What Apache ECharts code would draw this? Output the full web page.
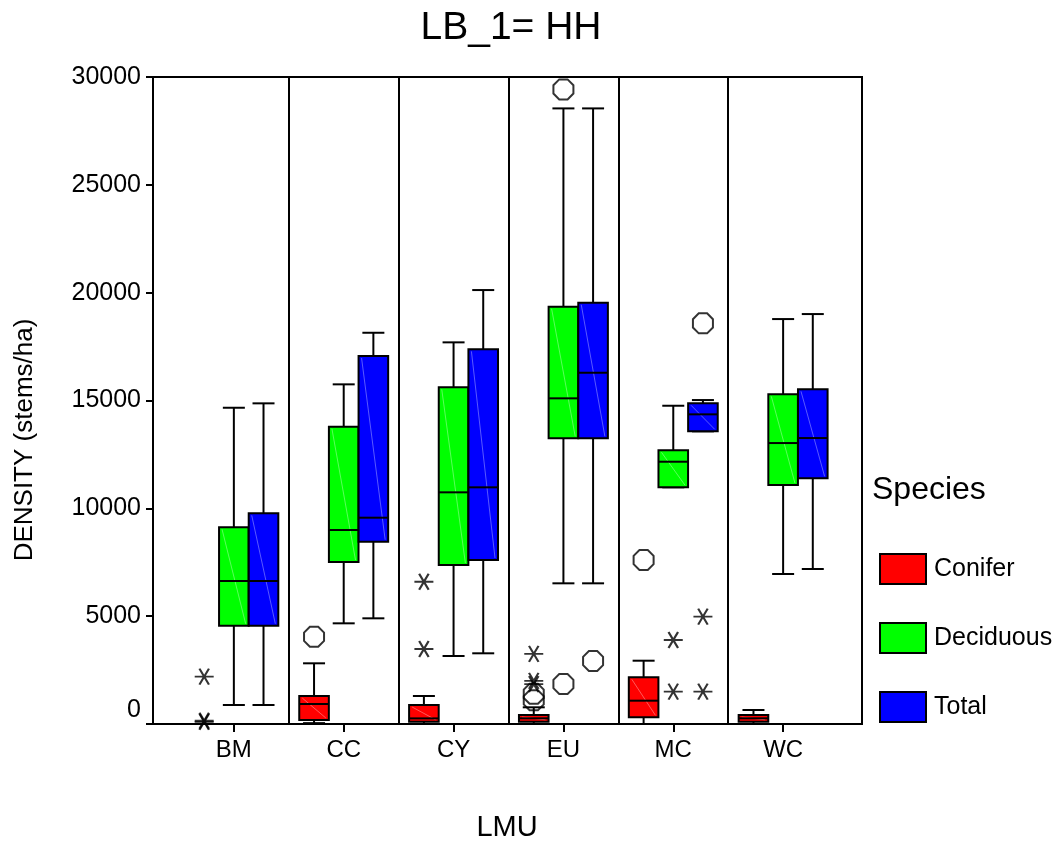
<!DOCTYPE html>
<html>
<head>
<meta charset="utf-8">
<title>LB_1= HH</title>
<script src="https://cdn.jsdelivr.net/npm/echarts@6/dist/echarts.min.js"></script>
<style>
  html, body { margin: 0; padding: 0; background: #fff; }
  #main { width: 1058px; height: 846px; }
</style>
</head>
<body>
<div id="main"></div>
<script>
// categories (LMU)
var lmu = ['BM', 'CC', 'CY', 'EU', 'MC', 'WC'];
var yTicks = [0, 5000, 10000, 15000, 20000, 25000, 30000];

// box values per LMU: [low, q1, median, q3, high]
var coniferBox = [
  [0, 0, 0, 0, 0],
  [40, 185, 927, 1298, 2814],
  [0, 100, 260, 881, 1298],
  [0, 100, 264, 417, 774],
  [0, 310, 1081, 2165, 2935],
  [0, 100, 264, 417, 649]
];
var deciduousBox = [
  [881, 4557, 6630, 9119, 14664],
  [4668, 7510, 8994, 13783, 15749],
  [3152, 7371, 10742, 15610, 17696],
  [6523, 13245, 15100, 19346, 28544],
  [10974, 10974, 12161, 12689, 14757],
  [6954, 11080, 13027, 15285, 18776]
];
var totalBox = [
  [881, 4557, 6630, 9768, 14868],
  [4900, 8452, 9566, 17061, 18141],
  [3278, 7603, 10974, 17371, 20121],
  [6523, 13245, 16287, 19532, 28544],
  [13570, 13570, 14358, 14868, 15021],
  [7186, 11391, 13259, 15517, 19008]
];

// outliers: [lmu index, value]
var coniferCircles = [[1, 4047], [3, 1100], [3, 1400], [4, 7603]];
var coniferStars = [[0, 2193], [0, 150], [0, 100], [2, 6597], [2, 3477], [3, 3250], [3, 1850], [3, 2000]];
var deciduousCircles = [[3, 29425], [3, 1854]];
var deciduousStars = [[4, 3894], [4, 1499]];
var totalCircles = [[3, 2921], [4, 18577]];
var totalStars = [[4, 4976], [4, 1499]];

var FONT = '"Liberation Sans", Arial, Helvetica, sans-serif';
var OFF = 0.27;
var STAR = 'path://M0,10L20,10M5,1.34L15,18.66M5,18.66L15,1.34';
var OCT = 'path://M7,0L17,0L24,7L24,17L17,24L7,24L0,17L0,7Z';

function boxData(arr) {
  return arr.map(function (b, i) { return [i].concat(b); });
}
function shift(arr, off) {
  return arr.map(function (p) { return [p[0] + off, p[1]]; });
}

function boxRender(off, fill) {
  return function (params, api) {
    var x = api.value(0) + off;
    var lo = api.coord([x, api.value(1)]);
    var q1 = api.coord([x, api.value(2)]);
    var md = api.coord([x, api.value(3)]);
    var q3 = api.coord([x, api.value(4)]);
    var hi = api.coord([x, api.value(5)]);
    var cx = lo[0], hw = 14.8, cw = 11;
    var ln = { stroke: '#000', lineWidth: 2 };
    var kids = [
      { type: 'line', shape: { x1: cx, y1: q3[1], x2: cx, y2: hi[1] }, style: ln },
      { type: 'line', shape: { x1: cx, y1: q1[1], x2: cx, y2: lo[1] }, style: ln },
      { type: 'line', shape: { x1: cx - cw, y1: hi[1], x2: cx + cw, y2: hi[1] }, style: ln },
      { type: 'line', shape: { x1: cx - cw, y1: lo[1], x2: cx + cw, y2: lo[1] }, style: ln },
      { type: 'rect', shape: { x: cx - hw, y: q3[1], width: 2 * hw, height: q1[1] - q3[1] },
        style: { fill: fill, stroke: '#000', lineWidth: 2 } }
    ];
    if (q1[1] - q3[1] > 6) {
      kids.push({ type: 'line', shape: { x1: cx - hw + 3, y1: q3[1] + 2, x2: cx + hw - 3, y2: q1[1] - 2 },
        style: { stroke: 'rgba(255,255,255,0.35)', lineWidth: 1 } });
    }
    kids.push({ type: 'line', shape: { x1: cx - hw, y1: md[1], x2: cx + hw, y2: md[1] }, style: ln });
    return { type: 'group', children: kids };
  };
}

function boxSeries(name, arr, off, color) {
  return {
    name: name,
    type: 'custom',
    data: boxData(arr),
    encode: { x: 0, y: [1, 2, 3, 4, 5] },
    itemStyle: { color: color, borderColor: '#000', borderWidth: 2 },
    renderItem: boxRender(off, color),
    silent: true,
    z: 3
  };
}

function outSeries(name, pts, off, symbol, size) {
  return {
    name: name,
    type: 'scatter',
    data: shift(pts, off),
    symbol: symbol,
    symbolSize: size,
    itemStyle: { color: 'rgba(0,0,0,0)', borderColor: '#000', borderWidth: 2 },
    silent: true,
    z: 4
  };
}

var chart = echarts.init(document.getElementById('main'));
chart.setOption({
  animation: false,
  backgroundColor: '#fff',
  title: {
    text: 'LB_1= HH',
    left: 506,
    top: 4,
    textAlign: 'center',
    textStyle: { fontSize: 39, fontWeight: 'normal', color: '#000', fontFamily: FONT }
  },
  grid: {
    left: 153, top: 77, width: 709, height: 647,
    show: true, borderColor: '#000', borderWidth: 2, backgroundColor: 'rgba(0,0,0,0)'
  },
  legend: {
    orient: 'vertical',
    left: 879,
    top: 553,
    padding: 0,
    itemWidth: 46,
    itemHeight: 30,
    itemGap: 37,
    data: ['Conifer', 'Deciduous', 'Total'],
    icon: 'rect',
    selectedMode: false,
    itemStyle: { borderColor: '#000', borderWidth: 2 },
    textStyle: { fontSize: 25, color: '#000', fontFamily: FONT, padding: [0, 0, 0, 3], lineHeight: 30 }
  },
  graphic: [
    { type: 'text', x: 25, y: 440, rotation: Math.PI / 2,
      style: { text: 'DENSITY (stems/ha)', fontSize: 26, fontFamily: FONT, fill: '#000',
               align: 'center', verticalAlign: 'middle' } },
    { type: 'text', x: 507, y: 828,
      style: { text: 'LMU', fontSize: 29, fontFamily: FONT, fill: '#000',
               align: 'center', verticalAlign: 'middle' } },
    { type: 'text', x: 872, y: 490,
      style: { text: 'Species', fontSize: 32, fontFamily: FONT, fill: '#000',
               align: 'left', verticalAlign: 'middle' } }
  ],
  xAxis: {
    type: 'value',
    min: -0.736,
    max: 5.718,
    axisLine: { onZero: false, lineStyle: { color: '#000', width: 2 } },
    axisTick: { customValues: [0, 1, 2, 3, 4, 5], length: 8, lineStyle: { color: '#000', width: 2 } },
    axisLabel: {
      customValues: [0, 1, 2, 3, 4, 5],
      formatter: function (v) { return lmu[Math.round(v)]; },
      fontSize: 24, color: '#000', fontFamily: FONT, margin: 14
    },
    splitLine: { show: false }
  },
  yAxis: {
    type: 'value',
    min: yTicks[0],
    max: yTicks[yTicks.length - 1],
    interval: 5000,
    axisLine: { show: true, onZero: false, lineStyle: { color: '#000', width: 2 } },
    axisTick: { show: true, length: 7, lineStyle: { color: '#000', width: 2 } },
    axisLabel: {
      fontSize: 25, color: '#000', fontFamily: FONT, margin: 12,
      formatter: function (v) { return v === 0 ? '{z|0}' : String(v); },
      rich: { z: { fontSize: 25, color: '#000', fontFamily: FONT, padding: [0, 0, 28, 0] } }
    },
    splitLine: { show: false }
  },
  series: [
    {
      name: 'panels',
      type: 'scatter',
      data: [],
      silent: true,
      markLine: {
        silent: true,
        symbol: 'none',
        label: { show: false },
        lineStyle: { color: '#000', width: 2, type: 'solid' },
        data: [{ xAxis: 0.5 }, { xAxis: 1.5 }, { xAxis: 2.5 }, { xAxis: 3.5 }, { xAxis: 4.5 }]
      }
    },
    boxSeries('Conifer', coniferBox, -OFF, '#ff0000'),
    boxSeries('Deciduous', deciduousBox, 0, '#00ff00'),
    boxSeries('Total', totalBox, OFF, '#0000ff'),
    outSeries('c-circ', coniferCircles, -OFF, OCT, 20),
    outSeries('c-star', coniferStars, -OFF, STAR, [19, 16]),
    outSeries('d-circ', deciduousCircles, 0, OCT, 20),
    outSeries('d-star', deciduousStars, 0, STAR, [19, 16]),
    outSeries('t-circ', totalCircles, OFF, OCT, 20),
    outSeries('t-star', totalStars, OFF, STAR, [19, 16])
  ]
});
</script>
</body>
</html>
